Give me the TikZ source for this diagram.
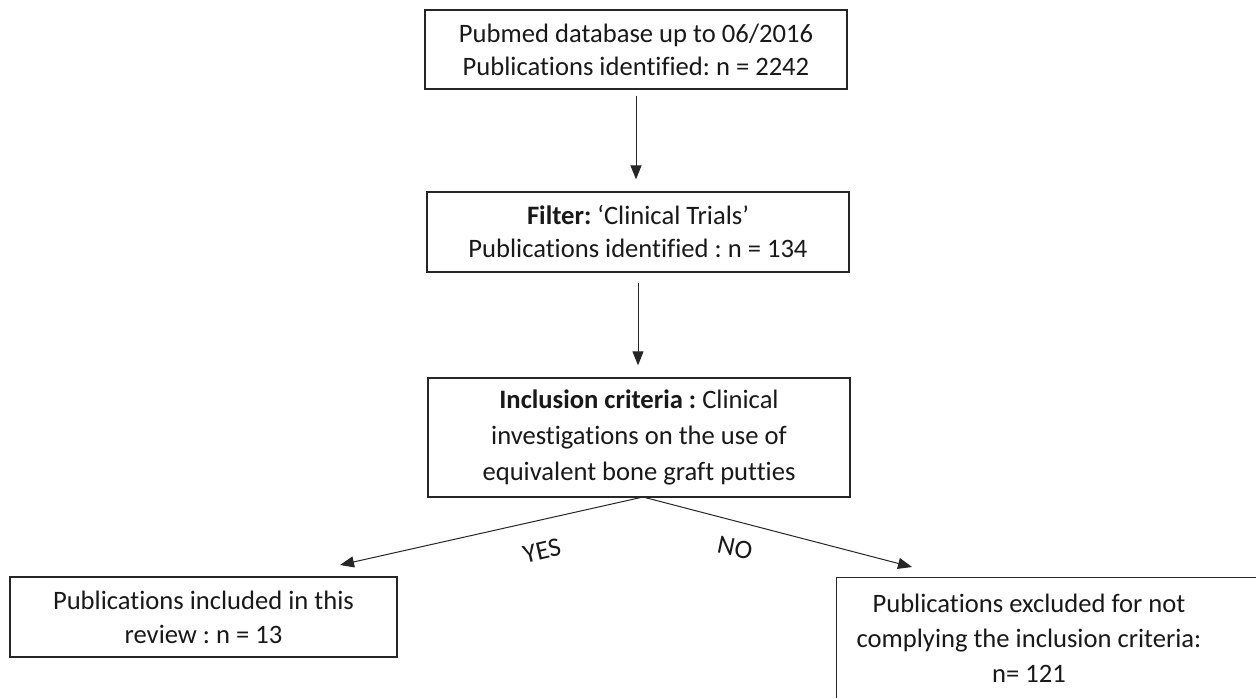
\documentclass[tikz,border=0pt]{standalone}
\usepackage{fontspec}
\setmainfont[Ligatures={NoCommon}]{Carlito}
\usetikzlibrary{arrows.meta}
\frenchspacing
\begin{document}
\begin{tikzpicture}[x=1pt,y=-1pt,
  box/.style={draw=black!85, line width=1.3pt, rectangle, inner sep=0pt, align=center,
    font=\fontsize{26.6}{33}\selectfont, text=black!90},
  lbl/.style={font=\fontsize{26.6}{33}\selectfont, text=black!90, inner sep=0pt},
  arr/.style={draw=black!85, line width=1pt, -{Triangle[length=14pt,width=11pt]}}]
\useasboundingbox (0,0) rectangle (1256,697);
\clip (0,0) rectangle (1256,697);
\fill[white] (0,0) rectangle (1256,697);
\node[box, minimum width=422pt, minimum height=79pt] (b1) at (636,49.5)
  {Pubmed database up to 06/2016\\Publications identified: n = 2242};
\node[box, minimum width=422pt, minimum height=80pt] (b2) at (638,232)
  {\textbf{Filter:} `Clinical Trials'\\Publications identified : n = 134};
\node[box, minimum width=422pt, minimum height=119pt,
  font=\fontsize{26.6}{36}\selectfont] (b3) at (639,437.5)
  {\textbf{Inclusion criteria :} Clinical\\investigations on the use of\\equivalent bone graft putties};
\node[box, minimum width=387pt, minimum height=80pt,
  font=\fontsize{26.6}{34}\selectfont] (b4) at (203.5,617)
  {Publications included in this\\review : n = 13};
\node[box, minimum width=430pt, minimum height=130pt, anchor=north west] (b5) at (836,577) {};
\node[lbl, align=center, anchor=north, font=\fontsize{26.6}{35}\selectfont] (b5t) at (1029,594)
  {Publications excluded for not\\complying the inclusion criteria:\\n= 121};
\coordinate (split) at (643,497);
\coordinate (yestip) at (340,565);
\coordinate (notip) at (912,567);
\draw[arr] ([yshift=-6pt]b1.south) -- ([yshift=12pt]b1.south |- b2.north);
\draw[arr] ([yshift=-10pt]b2.south) -- ([yshift=12pt]b2.south |- b3.north);
\draw[arr] (split) -- (yestip);
\draw[arr] (split) -- (notip);
\node[lbl, rotate=13] (yes) at (542,551) {YES};
\node[lbl, rotate=-12] (no) at (735,548) {NO};
\end{tikzpicture}
\end{document}
